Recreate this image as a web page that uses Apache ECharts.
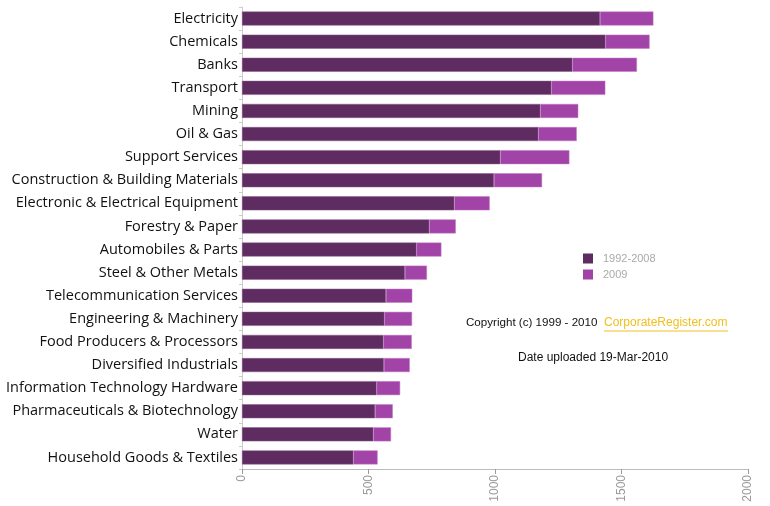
<!DOCTYPE html>
<html>
<head>
<meta charset="utf-8">
<script src="https://cdn.jsdelivr.net/npm/echarts@6/dist/echarts.min.js"></script>
<style>html,body{margin:0;padding:0;background:#fff;}#c{width:770px;height:506px;}</style>
</head>
<body>
<div id="c"></div>
<script>
const categories = [
  "Electricity","Chemicals","Banks","Transport","Mining","Oil & Gas","Support Services",
  "Construction & Building Materials","Electronic & Electrical Equipment","Forestry & Paper",
  "Automobiles & Parts","Steel & Other Metals","Telecommunication Services","Engineering & Machinery",
  "Food Producers & Processors","Diversified Industrials","Information Technology Hardware",
  "Pharmaceuticals & Biotechnology","Water","Household Goods & Textiles"
];
const series1992_2008 = [1415,1437,1306,1223,1179,1171,1021,996,839,740,690,644,569,563,559,561,532,526,519,440];
const series2009 = [211,174,255,213,150,152,273,190,140,105,98,87,104,109,112,102,93,70,70,96];
const seriesNames = ["1992-2008","2009"];
const xTicks = {min:0,max:2000,interval:500};

const chart = echarts.init(document.getElementById('c'));
chart.setOption({
  animation:false,
  backgroundColor:'#fff',
  grid:{left:242,right:22,top:7,height:462},
  legend:{
    orient:'vertical', left:583, top:253, itemWidth:10, itemHeight:10, itemGap:5, padding:0,
    icon:'rect', data:seriesNames,
    itemStyle:{borderWidth:0},
    textStyle:{color:'#aaa', fontSize:11, fontFamily:'Liberation Sans', padding:[0,0,0,5]}
  },
  xAxis:{
    type:'value', min:xTicks.min, max:xTicks.max, interval:xTicks.interval,
    axisLine:{show:true, lineStyle:{color:'#bbb', width:1}},
    axisTick:{show:true, length:5, lineStyle:{color:'#999'}},
    splitLine:{show:false},
    axisLabel:{rotate:90, color:'#999', fontSize:12, fontFamily:'Liberation Sans', margin:6,
      formatter:function(v){return String(v);}}
  },
  yAxis:{
    type:'category', data:categories, inverse:true,
    axisLine:{show:true, lineStyle:{color:'#ccc'}},
    axisTick:{show:true, length:3, lineStyle:{color:'#ccc'}},
    axisLabel:{color:'#111', fontSize:14.5, fontFamily:'Open Sans', margin:4}
  },
  series:[
    {name:seriesNames[0], type:'bar', stack:'t', data:series1992_2008, barWidth:14,
     itemStyle:{color:'#5e2c60', borderColor:'#8a5a8c', borderWidth:0.5}},
    {name:seriesNames[1], type:'bar', stack:'t', data:series2009, barWidth:14,
     itemStyle:{color:'#a243a8', borderColor:'#c07ac4', borderWidth:0.5}}
  ],
  graphic:[
    {type:'text', left:466, top:317, style:{text:'Copyright (c) 1999 - 2010', fill:'#111', font:'11.6px "Liberation Sans"'}},
    {type:'text', left:604, top:317, style:{text:'CorporateRegister.com', fill:'#f0c020', font:'12px "Liberation Sans"'}},
    {type:'line', shape:{x1:604, y1:331, x2:728, y2:331}, style:{stroke:'#f0c020', lineWidth:1}},
    {type:'text', left:518, top:352, style:{text:'Date uploaded 19-Mar-2010', fill:'#111', font:'12px "Liberation Sans"'}}
  ]
});
</script>
</body>
</html>
